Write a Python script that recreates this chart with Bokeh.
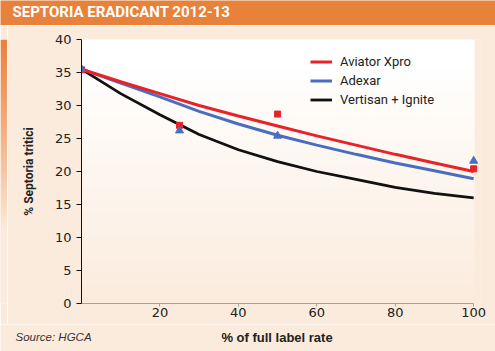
import numpy as np
from bokeh.plotting import figure
from bokeh.models import Range1d, FixedTicker, Legend, LegendItem
from bokeh.layouts import column, row
from bokeh.embed import file_html
from bokeh.resources import INLINE
from bokeh.core.properties import value

# ---------------- data ----------------
title_text = "SEPTORIA ERADICANT 2012-13"
source_text = "Source: HGCA"
x_title = "% of full label rate"
y_title = "% Septoria tritici"

rate = [0, 10, 20, 30, 40, 50, 60, 70, 80, 90, 100]
aviator_curve = [35.5, 33.6, 31.8, 30.0, 28.4, 26.9, 25.4, 24.0, 22.6, 21.3, 20.0]
adexar_curve = [35.5, 33.4, 31.3, 29.1, 27.2, 25.5, 24.0, 22.6, 21.3, 20.1, 18.9]
vertisan_curve = [35.5, 31.8, 28.6, 25.6, 23.3, 21.5, 20.0, 18.8, 17.6, 16.7, 16.0]

trial_rate = [0, 25, 50, 100]
aviator_obs = [35.4, 27.0, 28.7, 20.4]
adexar_obs = [35.5, 26.2, 25.4, 21.6]

series_names = ["Aviator Xpro", "Adexar", "Vertisan + Ignite"]
x_ticks = [20, 40, 60, 80, 100]
y_ticks = [0, 5, 10, 15, 20, 25, 30, 35, 40]

# ---------------- style ----------------
ORANGE = "#E8813A"
PEACH = "#FBEBDD"
RED = "#E82229"
BLUE = "#4A6EBF"
BLACK = "#111111"
COND = "Roboto"


def hex_rgb(h):
    h = h.lstrip("#")
    return [int(h[i:i + 2], 16) for i in (0, 2, 4)]


def rgba_column(colors_bottom_to_top):
    arr = np.zeros((len(colors_bottom_to_top), 1), dtype=np.uint32)
    view = arr.view(dtype=np.uint8).reshape((len(colors_bottom_to_top), 1, 4))
    for i, (r, g, b) in enumerate(colors_bottom_to_top):
        view[i, 0, 0] = r
        view[i, 0, 1] = g
        view[i, 0, 2] = b
        view[i, 0, 3] = 255
    return arr


def blend(c1, c2, t):
    return [int(round(a + (b - a) * t)) for a, b in zip(c1, c2)]


def bare(fig, bg):
    fig.background_fill_color = bg
    fig.border_fill_color = bg
    fig.outline_line_color = None
    fig.grid.visible = False
    return fig


# ---------------- header bar ----------------
hdr = bare(figure(width=495, height=25, x_range=Range1d(0, 495), y_range=Range1d(0, 25),
                  title=None, toolbar_location=None, output_backend="svg", min_border=0,
                  x_axis_type=None, y_axis_type=None), ORANGE)
hdr.text(x=[12], y=[13.5], text=[title_text], text_color="white",
         text_font=value(COND), text_font_size="15px", text_font_style="bold",
         text_baseline="middle", text_align="left")

# ---------------- left orange strip ----------------
body_h = 299
strip = bare(figure(width=7, height=body_h, x_range=Range1d(0, 1), y_range=Range1d(0, body_h),
                    title=None, toolbar_location=None, output_backend="svg", min_border=0,
                    x_axis_type=None, y_axis_type=None), PEACH)
cols = []
for yy in range(body_h):
    t = (yy - 84) / (body_h - 84)
    t = min(max(t, 0.0), 1.0)
    cols.append(blend(hex_rgb(PEACH), hex_rgb(ORANGE), t ** 0.9))
strip.image_rgba(image=[rgba_column(cols)], x=0, y=0, dw=1, dh=body_h)

# ---------------- main chart ----------------
p = figure(width=488, height=body_h, x_range=Range1d(0, 102), y_range=Range1d(0, 40),
           title=None, toolbar_location=None, output_backend="svg",
           min_border_left=74, min_border_right=14, min_border_top=14, min_border_bottom=21)
bare(p, PEACH)

# plot-area gradient (white at top to peach at bottom)
n = 200
gcols = []
for i in range(n):
    t = i / (n - 1)  # 0 bottom, 1 top
    gcols.append(blend(hex_rgb(PEACH), [255, 255, 255], min(1.0, t * 1.1)))
p.image_rgba(image=[rgba_column(gcols)], x=0, y=0, dw=100.25, dh=40)

r_black = p.line(rate, vertisan_curve, line_color=BLACK, line_width=2.8)
r_blue = p.line(rate, adexar_curve, line_color=BLUE, line_width=3)
r_red = p.line(rate, aviator_curve, line_color=RED, line_width=3)
p.scatter(trial_rate, aviator_obs, marker="square", size=6, fill_color=RED, line_color=RED)
p.scatter(trial_rate, adexar_obs, marker="triangle", size=8, fill_color=BLUE, line_color=BLUE)

# axes
xa = p.xaxis[0]
xa.ticker = FixedTicker(ticks=x_ticks)
xa.bounds = (0, 100)
xa.axis_line_color = "#A79F98"
xa.major_tick_line_color = "#A79F98"
xa.major_tick_out = 3
xa.major_tick_in = 0
xa.minor_tick_line_color = None
xa.major_label_standoff = 1
xa.major_label_text_font = "DejaVu Sans"
xa.major_label_text_font_size = "13px"
xa.major_label_text_color = "#222222"

ya = p.yaxis[0]
ya.ticker = FixedTicker(ticks=y_ticks)
ya.bounds = (0, 40)
ya.axis_line_color = "#111111"
ya.major_tick_line_color = "#111111"
ya.major_tick_out = 5
ya.major_tick_in = 0
ya.minor_tick_line_color = None
ya.major_label_standoff = 5
ya.major_label_text_font = "DejaVu Sans"
ya.major_label_text_font_size = "13px"
ya.major_label_text_color = "#222222"
ya.axis_label = y_title
ya.axis_label_text_font = COND
ya.axis_label_text_font_style = "bold"
ya.axis_label_text_font_size = "12px"
ya.axis_label_text_color = "#222222"
ya.axis_label_standoff = 16

legend = Legend(items=[LegendItem(label=series_names[0], renderers=[r_red]),
                       LegendItem(label=series_names[1], renderers=[r_blue]),
                       LegendItem(label=series_names[2], renderers=[r_black])],
                location=(229, 195), padding=0, margin=0, spacing=2,
                glyph_width=22, glyph_height=17, label_height=17, label_standoff=8,
                background_fill_alpha=0, border_line_color=None,
                label_text_font=COND, label_text_font_size="13px",
                label_text_color="#222222")
p.add_layout(legend)

# ---------------- footer (source + x-axis title) ----------------
foot = bare(figure(width=495, height=27, x_range=Range1d(0, 495), y_range=Range1d(0, 27),
                   title=None, toolbar_location=None, output_backend="svg", min_border=0,
                   x_axis_type=None, y_axis_type=None), PEACH)
foot.text(x=[15], y=[14.5], text=[source_text], text_color="#333333",
          text_font=value("Liberation Sans"), text_font_size="11.5px",
          text_font_style="italic", text_baseline="middle", text_align="left")
foot.text(x=[276.5], y=[14], text=[x_title], text_color="#222222",
          text_font=value("Liberation Sans"), text_font_size="13px",
          text_font_style="bold", text_baseline="middle", text_align="center")

layout = column(hdr, row(strip, p, spacing=0), foot, spacing=0)

with open("out.html", "w") as f:
    f.write(file_html(layout, INLINE))
